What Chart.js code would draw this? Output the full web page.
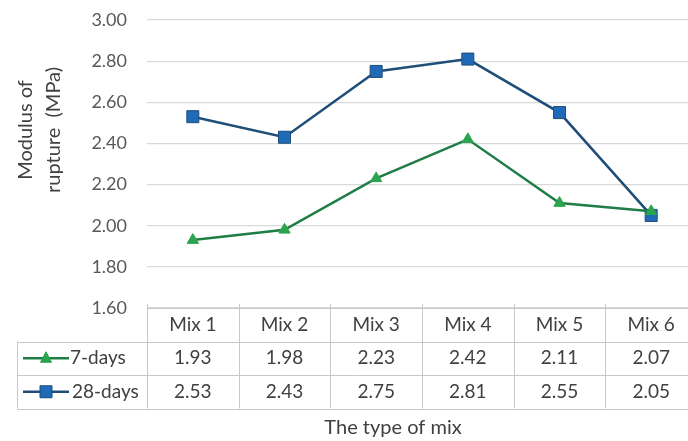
<!DOCTYPE html>
<html>
<head>
<meta charset="utf-8">
<script src="https://cdn.jsdelivr.net/npm/chart.js@4.4.1/dist/chart.umd.min.js"></script>
<style>
  html, body { margin: 0; padding: 0; overflow: hidden; background: #fff; }
  #wrap { width: 700px; height: 441px; }
</style>
</head>
<body>
<div id="wrap"><canvas id="c" width="700" height="441"></canvas></div>
<script>
// Categories and series
const mixes = ['Mix 1', 'Mix 2', 'Mix 3', 'Mix 4', 'Mix 5', 'Mix 6'];
const days7 = [1.93, 1.98, 2.23, 2.42, 2.11, 2.07];
const days28 = [2.53, 2.43, 2.75, 2.81, 2.55, 2.05];
const seriesNames = ['7-days', '28-days'];

// Value axis
const yMin = 1.6;
const yMax = 3.0;
const yStep = 0.2;

const yTitleLines = ['Modulus of', 'rupture  (MPa)'];
const xTitle = 'The type of mix';

const FONT = 'Lato, "Liberation Sans", sans-serif';
const TEXT = '#404040';
const TICK = '#595959';
const GRID = '#d9d9d9';
const TABLE_LINE = '#c8c8c8';

const GREEN_LINE = '#1f7d46';
const GREEN_MARK = '#2aa44f';
const BLUE_LINE = '#1f4e79';
const BLUE_MARK = '#1f6bb8';

function drawKey(ctx, x0, x1, y, lineColor, markColor, shape) {
  ctx.save();
  ctx.strokeStyle = lineColor;
  ctx.lineWidth = 2.5;
  ctx.beginPath();
  ctx.moveTo(x0, y);
  ctx.lineTo(x1, y);
  ctx.stroke();
  const cx = (x0 + x1) / 2;
  ctx.fillStyle = markColor;
  ctx.strokeStyle = shape === 'rect' ? lineColor : markColor;
  ctx.lineWidth = 1;
  ctx.beginPath();
  if (shape === 'rect') {
    ctx.rect(cx - 6, y - 6, 12, 12);
  } else {
    ctx.moveTo(cx, y - 6.5);
    ctx.lineTo(cx + 5.5, y + 4);
    ctx.lineTo(cx - 5.5, y + 4);
    ctx.closePath();
  }
  ctx.fill();
  ctx.stroke();
  ctx.restore();
}

// Data table under the plot, aligned with the category scale
const dataTable = {
  id: 'dataTable',
  afterDraw(chart) {
    const ctx = chart.ctx;
    const x = chart.scales.x;
    const area = chart.chartArea;
    const n = mixes.length;
    const colW = (area.right - area.left) / n;
    const top = area.bottom;
    const rowH = 33.5;
    const r1 = top + rowH;
    const r2 = r1 + rowH;
    const bottom = r2 + rowH;
    const keyLeft = 17;

    ctx.save();
    ctx.strokeStyle = TABLE_LINE;
    ctx.lineWidth = 1;
    ctx.beginPath();
    ctx.moveTo(area.left, top + 0.5); ctx.lineTo(chart.width, top + 0.5);
    [r1, r2, bottom].forEach(yy => { ctx.moveTo(keyLeft, Math.round(yy) + 0.5); ctx.lineTo(chart.width, Math.round(yy) + 0.5); });
    ctx.moveTo(keyLeft + 0.5, r1); ctx.lineTo(keyLeft + 0.5, bottom);
    for (let i = 0; i <= n; i++) {
      const xx = Math.round(area.left + i * colW) + 0.5;
      ctx.moveTo(xx, top - 4); ctx.lineTo(xx, bottom);
    }
    ctx.stroke();

    ctx.font = '19px ' + FONT;
    ctx.fillStyle = TEXT;
    ctx.textAlign = 'center';
    ctx.textBaseline = 'middle';
    const rows = [days7, days28];
    mixes.forEach((m, i) => {
      const cx = x.getPixelForValue(i);
      ctx.fillText(m, cx, top + rowH / 2);
      rows.forEach((vals, r) => {
        ctx.fillText(vals[i].toFixed(2), cx, top + rowH * (r + 1.5));
      });
    });

    // series keys
    drawKey(ctx, 23, 69, r1 + rowH / 2, GREEN_LINE, GREEN_MARK, 'triangle');
    drawKey(ctx, 23, 69, r2 + rowH / 2, BLUE_LINE, BLUE_MARK, 'rect');
    ctx.textAlign = 'left';
    ctx.fillText(seriesNames[0], 70, r1 + rowH / 2);
    ctx.fillText(seriesNames[1], 72, r2 + rowH / 2);

    // axis titles
    ctx.font = '20px ' + FONT;
    ctx.textAlign = 'center';
    ctx.fillText(xTitle, 393, 428);
    ctx.save();
    ctx.translate(26, 130);
    ctx.rotate(-Math.PI / 2);
    ctx.fillText(yTitleLines[0], 0, 0);
    ctx.restore();
    ctx.save();
    ctx.translate(54, 130);
    ctx.rotate(-Math.PI / 2);
    ctx.fillText(yTitleLines[1], 0, 0);
    ctx.restore();
    ctx.restore();
  }
};

new Chart(document.getElementById('c'), {
  type: 'line',
  data: {
    labels: mixes,
    datasets: [
      {
        label: seriesNames[0],
        data: days7,
        borderColor: GREEN_LINE,
        backgroundColor: GREEN_MARK,
        pointBorderColor: GREEN_MARK,
        borderWidth: 2.5,
        pointStyle: 'triangle',
        pointRadius: 6.5,
        pointBorderWidth: 1,
        tension: 0
      },
      {
        label: seriesNames[1],
        data: days28,
        borderColor: BLUE_LINE,
        backgroundColor: BLUE_MARK,
        pointBorderColor: BLUE_LINE,
        borderWidth: 2.5,
        pointStyle: 'rect',
        pointRadius: 8.5,
        pointBorderWidth: 1,
        tension: 0
      }
    ]
  },
  options: {
    responsive: false,
    animation: false,
    devicePixelRatio: 1,
    layout: { autoPadding: false, padding: { top: 0, right: 3, bottom: 133, left: 0 } },
    plugins: { legend: { display: false }, tooltip: { enabled: false } },
    scales: {
      x: { display: false, offset: true },
      y: {
        min: yMin,
        max: yMax,
        afterFit(scale) { scale.width = 147; scale.paddingTop = 20; },
        border: { display: false },
        grid: { color: GRID, lineWidth: 1.2, drawTicks: false },
        ticks: {
          stepSize: yStep,
          padding: 20,
          color: TICK,
          font: { family: FONT, size: 18 },
          callback: v => Number(v).toFixed(2)
        }
      }
    }
  },
  plugins: [dataTable]
});
</script>
</body>
</html>
